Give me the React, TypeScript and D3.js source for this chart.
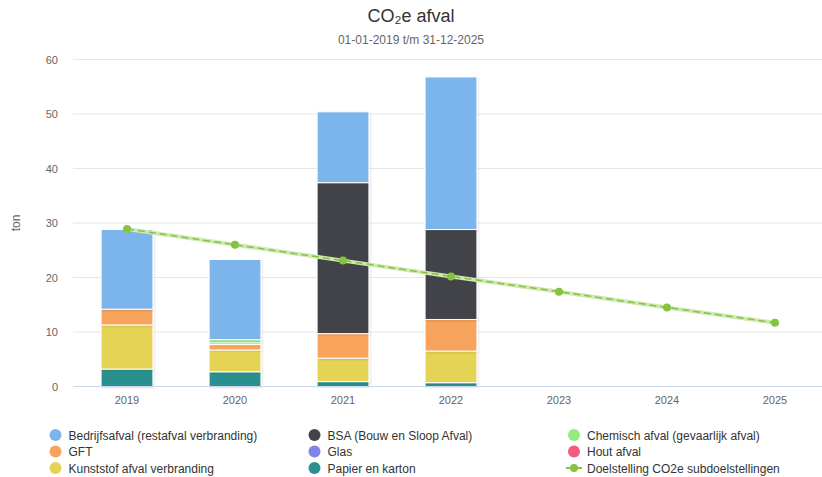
import React from "react";
import * as d3 from "d3";

const years = ["2019", "2020", "2021", "2022", "2023", "2024", "2025"];
const seriesNames = [
  "Papier en karton",
  "Kunststof afval verbranding",
  "GFT",
  "Hout afval",
  "Glas",
  "Chemisch afval (gevaarlijk afval)",
  "BSA (Bouw en Sloop Afval)",
  "Bedrijfsafval (restafval verbranding)",
];
const papier = [3.2, 2.7, 0.9, 0.7, 0, 0, 0];
const kunststof = [8.1, 4.0, 4.3, 5.8, 0, 0, 0];
const gft = [2.9, 1.0, 4.5, 5.8, 0, 0, 0];
const hout = [0, 0.3, 0, 0, 0, 0, 0];
const glas = [0, 0, 0, 0, 0, 0, 0];
const chemisch = [0, 0.6, 0, 0, 0, 0, 0];
const bsa = [0, 0, 27.7, 16.5, 0, 0, 0];
const bedrijfs = [14.6, 14.7, 13.0, 28.0, 0, 0, 0];
const doelstelling = [28.9, 26.0, 23.1, 20.2, 17.4, 14.5, 11.7];
const yTicks = [0, 10, 20, 30, 40, 50, 60];

const colors: Record<string, string> = {
  "Bedrijfsafval (restafval verbranding)": "#7cb5ec",
  "BSA (Bouw en Sloop Afval)": "#434348",
  "Chemisch afval (gevaarlijk afval)": "#90ed7d",
  GFT: "#f7a35c",
  Glas: "#8085e9",
  "Hout afval": "#f15c80",
  "Kunststof afval verbranding": "#e4d354",
  "Papier en karton": "#2b908f",
};
const lineColor = "#84c440";

const legendItems = [
  ["Bedrijfsafval (restafval verbranding)", "BSA (Bouw en Sloop Afval)", "Chemisch afval (gevaarlijk afval)"],
  ["GFT", "Glas", "Hout afval"],
  ["Kunststof afval verbranding", "Papier en karton", "Doelstelling CO2e subdoelstellingen"],
];

export default function App() {
  const W = 822;
  const H = 477;
  const left = 73;
  const right = 829;
  const top = 59.5;
  const bottom = 386.5;
  const font = "'Liberation Sans', Arial, sans-serif";

  const x = d3.scaleBand<string>().domain(years).range([left, right]).paddingInner(0.52).paddingOuter(0.26);
  const xc = (yr: string) => (x(yr) as number) + x.bandwidth() / 2;
  const y = d3.scaleLinear().domain([0, 60]).range([bottom, top]);

  const table = years.map((yr, i) => ({
    year: yr,
    "Papier en karton": papier[i],
    "Kunststof afval verbranding": kunststof[i],
    GFT: gft[i],
    "Hout afval": hout[i],
    Glas: glas[i],
    "Chemisch afval (gevaarlijk afval)": chemisch[i],
    "BSA (Bouw en Sloop Afval)": bsa[i],
    "Bedrijfsafval (restafval verbranding)": bedrijfs[i],
  }));
  const stacked = d3.stack<any>().keys(seriesNames)(table);

  const line = d3
    .line<number>()
    .x((_, i) => xc(years[i]))
    .y((d) => y(d));
  const linePath = line(doelstelling) || "";

  const colX = [55.5, 314.5, 574];
  const rowY = [435, 451.5, 468];

  return (
    <svg width={W} height={H} style={{ display: "block", position: "absolute", left: 0, top: 0 }} fontFamily={font}>
      <defs>
        <filter id="shadow" x="-20%" y="-20%" width="140%" height="140%">
          <feDropShadow dx="1" dy="1" stdDeviation="1" floodColor="#000" floodOpacity="0.12" />
        </filter>
      </defs>
      <rect width={W} height={H} fill="#fff" />
      <text x={411} y={22} textAnchor="middle" fontSize={18} fill="#333">
        CO₂e afval
      </text>
      <text x={411} y={44} textAnchor="middle" fontSize={12} fill="#666">
        01-01-2019 t/m 31-12-2025
      </text>

      {yTicks.map((t) => (
        <g key={t}>
          {t !== 0 && <line x1={left} x2={W} y1={y(t)} y2={y(t)} stroke="#e6e6e6" strokeWidth={1} />}
          <text x={58} y={y(t) + 4} textAnchor="end" fontSize={11} fill="#666">
            {t}
          </text>
        </g>
      ))}
      <text transform={`translate(20,${(top + bottom) / 2}) rotate(-90)`} textAnchor="middle" fontSize={12} fill="#666">
        ton
      </text>

      {stacked.map((s) => (
        <g key={s.key} fill={colors[s.key]}>
          {s.map((d, i) =>
            d[1] - d[0] > 0 ? (
              <rect
                key={i}
                x={x(years[i])}
                y={y(d[1])}
                width={x.bandwidth()}
                height={y(d[0]) - y(d[1])}
                stroke="#fff"
                strokeWidth={1}
                filter="url(#shadow)"
              />
            ) : null
          )}
        </g>
      ))}

      <line x1={left} x2={W} y1={bottom} y2={bottom} stroke="#ccd6eb" strokeWidth={1} />
      {years.map((yr) => (
        <text key={yr} x={xc(yr)} y={404} textAnchor="middle" fontSize={11} fill="#666">
          {yr}
        </text>
      ))}

      <path d={linePath} fill="none" stroke="#cfe8b4" strokeWidth={4} />
      <path d={linePath} fill="none" stroke={lineColor} strokeWidth={1.5} strokeDasharray="7,4" />
      {doelstelling.map((v, i) => (
        <circle key={i} cx={xc(years[i])} cy={y(v)} r={4} fill={lineColor} />
      ))}

      {legendItems.map((row, r) =>
        row.map((name, c) => (
          <g key={name} transform={`translate(${colX[c]},${rowY[r]})`}>
            {name.startsWith("Doelstelling") ? (
              <g>
                <line x1={-8} x2={8} y1={0} y2={0} stroke={lineColor} strokeWidth={2} />
                <circle cx={0} cy={0} r={4} fill={lineColor} />
              </g>
            ) : (
              <circle cx={0} cy={0} r={6} fill={colors[name]} />
            )}
            <text x={13} y={4.5} fontSize={12} fill="#333">
              {name}
            </text>
          </g>
        ))
      )}
    </svg>
  );
}
